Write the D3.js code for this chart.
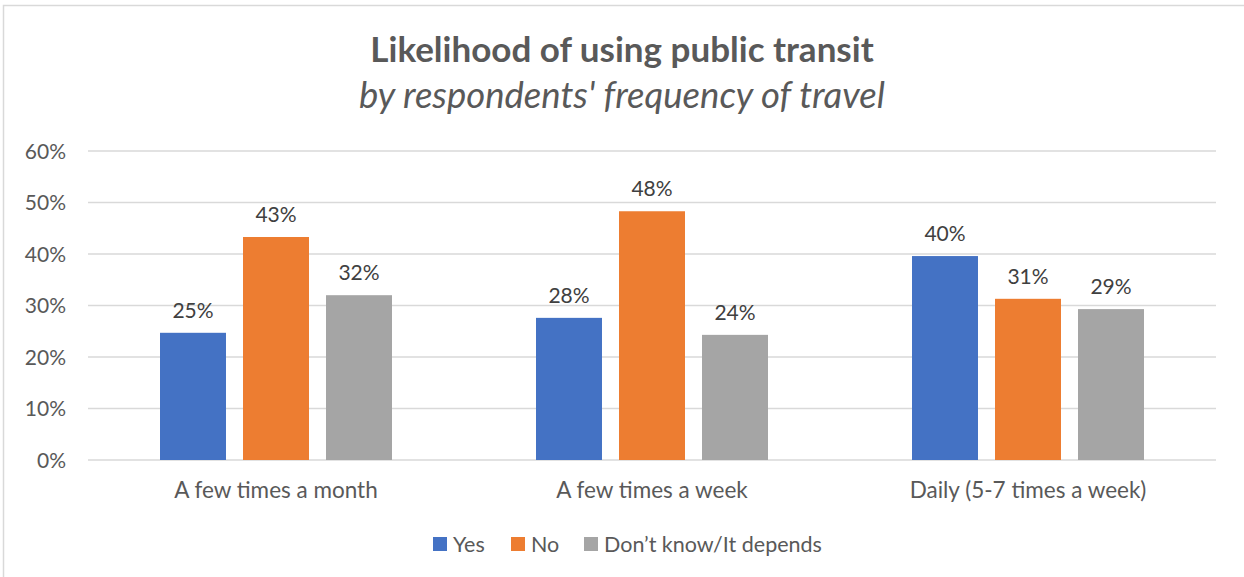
<!DOCTYPE html>
<html>
<head>
<meta charset="utf-8">
<script src="https://cdn.jsdelivr.net/npm/d3@7"></script>
<style>
  body { margin: 0; background: #fff; }
  text { font-family: Lato, "Open Sans", sans-serif; }
</style>
</head>
<body>
<svg id="chart" width="1244" height="577"></svg>
<script>
// data
var categories = ["A few times a month", "A few times a week", "Daily (5-7 times a week)"];
var seriesNames = ["Yes", "No", "Don\u2019t know/It depends"];
var yesValues = [0.247, 0.276, 0.396];
var noValues = [0.433, 0.483, 0.313];
var dontKnowValues = [0.320, 0.243, 0.293];
var yTicks = [0, 0.1, 0.2, 0.3, 0.4, 0.5, 0.6];

var colors = ["#4472c4", "#ed7d31", "#a5a5a5"];
var series = [yesValues, noValues, dontKnowValues];

var width = 1244, height = 577;
var margin = {left: 88, right: 28, top: 151, bottom: 117};

var svg = d3.select("#chart");

// outer chart border
svg.append("rect")
    .attr("x", 3.5).attr("y", 5.5)
    .attr("width", 1260).attr("height", 600)
    .attr("fill", "#fff")
    .attr("stroke", "#d9d9d9")
    .attr("stroke-width", 1.5);

var x0 = d3.scaleBand()
    .domain(categories)
    .range([margin.left, width - margin.right])
    .paddingInner(0)
    .paddingOuter(0);

var x1 = d3.scaleBand()
    .domain(d3.range(seriesNames.length))
    .range([0, 232])
    .paddingInner(0.205)
    .paddingOuter(0);

var y = d3.scaleLinear()
    .domain([0, 0.6])
    .range([height - margin.bottom, margin.top]);

var fmt = d3.format(".0%");

// gridlines
svg.append("g")
    .selectAll("line")
    .data(yTicks)
    .enter()
    .append("line")
    .attr("x1", margin.left)
    .attr("x2", width - margin.right)
    .attr("y1", function(d) { return y(d); })
    .attr("y2", function(d) { return y(d); })
    .attr("stroke", "#d9d9d9")
    .attr("stroke-width", 1.5);

// y axis labels
var yAxis = d3.axisLeft(y).tickValues(yTicks).tickFormat(fmt).tickSize(0).tickPadding(0);
var yg = svg.append("g")
    .attr("transform", "translate(66,0)")
    .call(yAxis);
yg.select(".domain").remove();
yg.selectAll("text")
    .attr("fill", "#595959")
    .style("font-size", "21px")
    .attr("dy", "0.35em");

// x axis labels
var xAxis = d3.axisBottom(x0).tickSize(0).tickPadding(0);
var xg = svg.append("g")
    .attr("transform", "translate(0," + (height - margin.bottom) + ")")
    .call(xAxis);
xg.select(".domain").remove();
xg.selectAll("text")
    .attr("fill", "#595959")
    .attr("y", 38)
    .attr("dy", 0)
    .style("font-size", "22.5px");

// bars
var groups = svg.append("g")
    .selectAll("g")
    .data(categories)
    .enter()
    .append("g")
    .attr("transform", function(d) {
        return "translate(" + (x0(d) + x0.bandwidth() / 2 - 116) + ",0)";
    });

groups.selectAll("rect")
    .data(function(d, i) {
        return series.map(function(s, j) { return {s: j, v: s[i]}; });
    })
    .enter()
    .append("rect")
    .attr("x", function(d) { return x1(d.s); })
    .attr("y", function(d) { return y(d.v); })
    .attr("width", x1.bandwidth())
    .attr("height", function(d) { return y(0) - y(d.v); })
    .attr("fill", function(d) { return colors[d.s]; });

groups.selectAll("text")
    .data(function(d, i) {
        return series.map(function(s, j) { return {s: j, v: s[i]}; });
    })
    .enter()
    .append("text")
    .attr("x", function(d) { return x1(d.s) + x1.bandwidth() / 2; })
    .attr("y", function(d) { return y(d.v) - 15; })
    .attr("text-anchor", "middle")
    .attr("fill", "#404040")
    .style("font-size", "21px")
    .text(function(d) { return fmt(d.v); });

// title
svg.append("text")
    .attr("x", width / 2).attr("y", 62)
    .attr("text-anchor", "middle")
    .attr("fill", "#595959")
    .style("font-size", "35px")
    .style("font-weight", "bold")
    .text("Likelihood of using public transit");

svg.append("text")
    .attr("x", width / 2).attr("y", 108)
    .attr("text-anchor", "middle")
    .attr("fill", "#595959")
    .style("font-size", "36.5px")
    .style("font-style", "italic")
    .text("by respondents' frequency of travel");

// legend
var legendX = [433, 511, 584];
var leg = svg.append("g")
    .selectAll("g")
    .data(seriesNames)
    .enter()
    .append("g")
    .attr("transform", function(d, i) { return "translate(" + legendX[i] + ",537)"; });

leg.append("rect")
    .attr("width", 14).attr("height", 14)
    .attr("fill", function(d, i) { return colors[i]; });

leg.append("text")
    .attr("x", 20).attr("y", 15)
    .attr("fill", "#595959")
    .style("font-size", "21.5px")
    .text(function(d) { return d; });
</script>
</body>
</html>
